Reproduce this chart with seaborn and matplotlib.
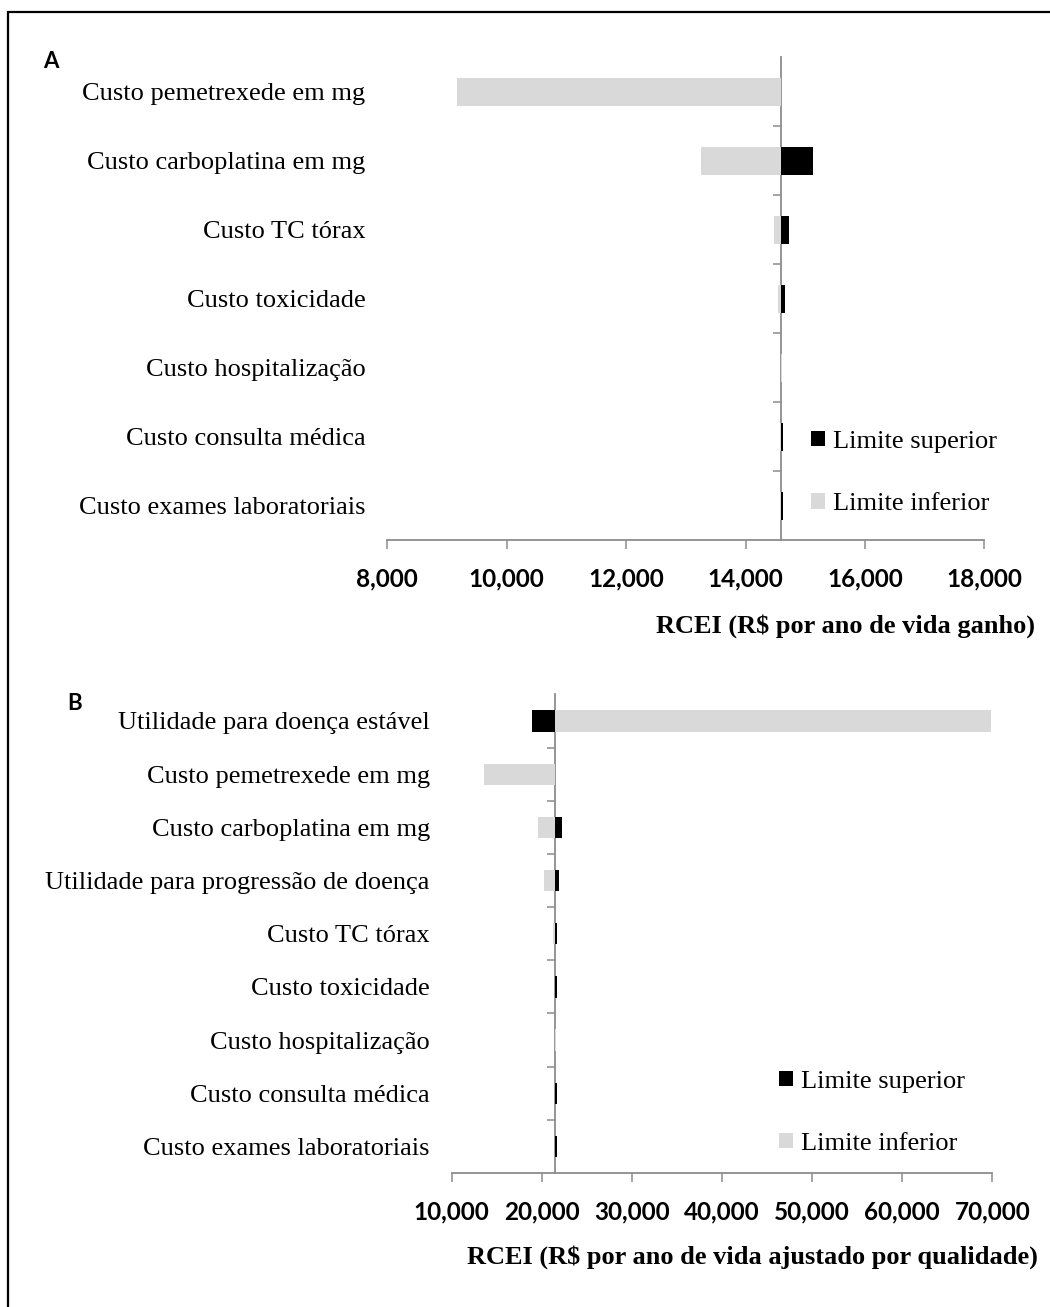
import numpy as np
import pandas as pd
import matplotlib
matplotlib.use("Agg")
import matplotlib.pyplot as plt
from matplotlib.patches import Patch, Rectangle
from matplotlib.ticker import FuncFormatter
import seaborn as sns

# ---- Panel A: RCEI (R$ por ano de vida ganho) ----
param_a = [
    "Custo pemetrexede em mg",
    "Custo carboplatina em mg",
    "Custo TC tórax",
    "Custo toxicidade",
    "Custo hospitalização",
    "Custo consulta médica",
    "Custo exames laboratoriais",
]
base_a = 14590
inferior_a = [9170, 13250, 14480, 14540, 14610, 14585, 14585]
superior_a = [14590, 15135, 14735, 14665, 14590, 14625, 14625]
xticks_a = [8000, 10000, 12000, 14000, 16000, 18000]

# ---- Panel B: RCEI (R$ por ano de vida ajustado por qualidade) ----
param_b = [
    "Utilidade para doença estável",
    "Custo pemetrexede em mg",
    "Custo carboplatina em mg",
    "Utilidade para progressão de doença",
    "Custo TC tórax",
    "Custo toxicidade",
    "Custo hospitalização",
    "Custo consulta médica",
    "Custo exames laboratoriais",
]
base_b = 21500
inferior_b = [69900, 13600, 19530, 20270, 21210, 21450, 21600, 21450, 21450]
superior_b = [18960, 21500, 22230, 21910, 21700, 21700, 21500, 21700, 21700]
xticks_b = [10000, 20000, 30000, 40000, 50000, 60000, 70000]

LIM_INF = "Limite inferior"
LIM_SUP = "Limite superior"

sns.set_theme(style="white")
plt.rcParams["font.family"] = ["Liberation Serif", "DejaVu Serif"]
plt.rcParams["text.color"] = "black"
plt.rcParams["xtick.color"] = "black"
plt.rcParams["ytick.color"] = "black"

GRAY = "#d9d9d9"
BLACK = "#000000"
AXIS = "#8c8c8c"
SERIF = 19
W, H = 1050, 1307

fig = plt.figure(figsize=(W / 100, H / 100), dpi=100)


def px_axes(left, top, right, bottom):
    return fig.add_axes([left / W, 1 - bottom / H, (right - left) / W, (bottom - top) / H])


def tornado(ax, params, base, inferior, superior, xticks):
    n = len(params)
    df = pd.DataFrame({
        "parametro": params * 2,
        "limite": [LIM_INF] * n + [LIM_SUP] * n,
        "valor": list(inferior) + list(superior),
    })
    df["delta"] = df["valor"] - base
    sns.barplot(
        data=df, y="parametro", x="delta", hue="limite",
        order=params, hue_order=[LIM_INF, LIM_SUP],
        palette={LIM_INF: GRAY, LIM_SUP: BLACK},
        dodge=False, width=0.4, left=base, errorbar=None,
        saturation=1, linewidth=0, legend=False, ax=ax,
    )
    ax.set_xlim(xticks[0], xticks[-1])
    ax.set_ylim(n - 0.5, -0.5)
    ax.set_xticks(xticks)
    ax.xaxis.set_major_formatter(FuncFormatter(lambda v, p: f"{v:,.0f}"))
    ax.set_xlabel("")
    ax.set_ylabel("")
    for s in ("left", "top", "right"):
        ax.spines[s].set_visible(False)
    ax.spines["bottom"].set_color(AXIS)
    ax.spines["bottom"].set_linewidth(1.3)
    ax.tick_params(axis="x", bottom=True, direction="out", length=6.8,
                   width=1.1, color=AXIS, pad=13)
    for lab in ax.get_xticklabels():
        lab.set_fontfamily("Lato")
        lab.set_fontweight("bold")
        lab.set_fontsize(17.5)
    ax.tick_params(axis="y", left=False, length=0, pad=15.8, labelsize=SERIF)

    # vertical category axis crossing at the base-case value
    frac = (base - xticks[0]) / (xticks[-1] - xticks[0])
    sec = ax.secondary_yaxis(frac)
    sec.set_alignment("left")
    sec.set_yticks(np.arange(n - 1) + 0.5)
    sec.set_yticklabels([])
    sec.tick_params(axis="y", direction="out", length=5.8, width=1.1, color=AXIS)
    sec.spines["left"].set_color(AXIS)
    sec.spines["left"].set_linewidth(1.3)


def add_legend(ax, x, y, spacing):
    handles = [Patch(facecolor=BLACK, edgecolor="none"), Patch(facecolor=GRAY, edgecolor="none")]
    ax.legend(handles, [LIM_SUP, LIM_INF], loc="upper left",
              bbox_to_anchor=(x / W, 1 - y / H), bbox_transform=fig.transFigure,
              frameon=False, borderpad=0, borderaxespad=0,
              handlelength=0.52, handleheight=0.52, handletextpad=0.3,
              labelspacing=spacing, prop={"family": "Liberation Serif", "size": SERIF})


ax_a = px_axes(387.3, 57.5, 984.3, 540.3)
tornado(ax_a, param_a, base_a, inferior_a, superior_a, xticks_a)
add_legend(ax_a, 811, 431, 1.53)

ax_b = px_axes(451.7, 694.4, 992.3, 1173)
tornado(ax_b, param_b, base_b, inferior_b, superior_b, xticks_b)
add_legend(ax_b, 779, 1071, 1.5)

# axis titles
fig.text(1035 / W, 1 - 626 / H, "RCEI (R$ por ano de vida ganho)",
         ha="right", va="center", fontsize=SERIF, fontweight="bold")
fig.text(1038 / W, 1 - 1257 / H, "RCEI (R$ por ano de vida ajustado por qualidade)",
         ha="right", va="center", fontsize=SERIF, fontweight="bold")

# panel letters
fig.text(50.5 / W, 1 - 61.7 / H, "A", ha="center", va="center",
         fontfamily="Lato", fontweight="bold", fontsize=16)
fig.text(75 / W, 1 - 704 / H, "B", ha="center", va="center",
         fontfamily="Lato", fontweight="bold", fontsize=16)

# frame around the whole figure
fig.add_artist(Rectangle((8 / W, -0.1), 1.2, 1.1 - 12 / H, transform=fig.transFigure,
                         fill=False, edgecolor="black", linewidth=1.6, clip_on=False))

fig.savefig("out.png", dpi=100)
